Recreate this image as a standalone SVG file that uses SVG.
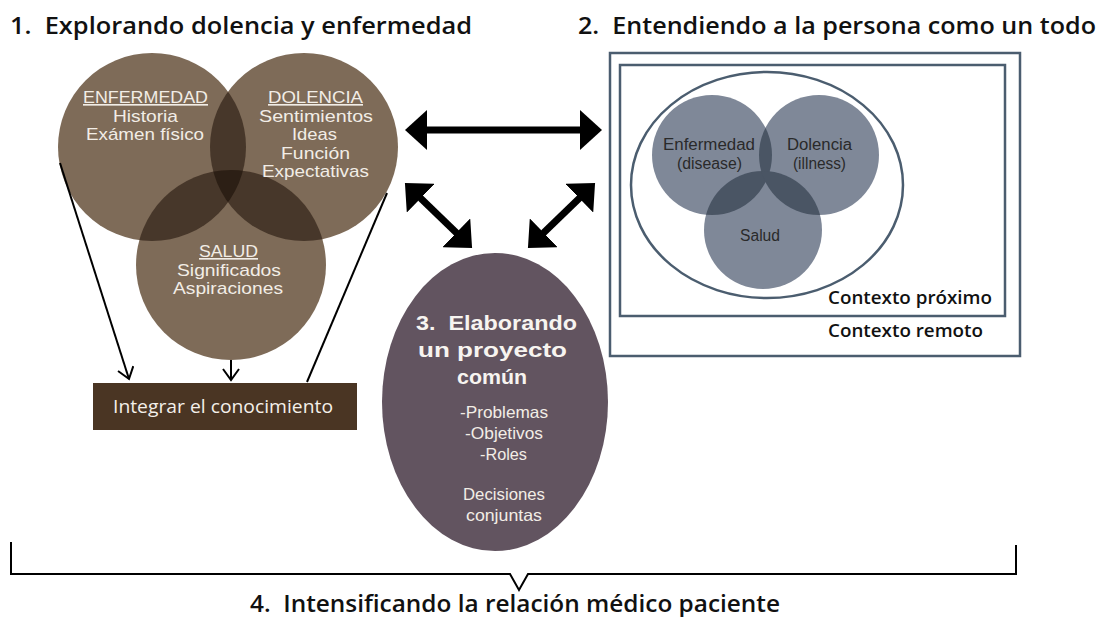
<svg xmlns="http://www.w3.org/2000/svg" width="1102" height="617" viewBox="0 0 1102 617">
<style>
.h{font-family:"Open Sans","Liberation Sans",sans-serif;font-weight:600;fill:#111;}
.ct{font-family:"Liberation Sans",Arial,sans-serif;fill:#f2ede6;font-size:16.4px;text-anchor:middle;}
.gt{font-family:"Liberation Sans",Arial,sans-serif;fill:#2a2a2a;font-size:16px;text-anchor:middle;}
.pt{font-family:"Liberation Sans",Arial,sans-serif;fill:#f2ede6;text-anchor:middle;font-size:16.5px;}
.pb{font-family:"Liberation Sans",Arial,sans-serif;fill:#f7f4f0;text-anchor:middle;font-size:21px;font-weight:700;}
.brown{fill:#7e6b58;}
.brown2{fill:#47372a;}
.brown3{fill:#2c1f15;}
.gray{fill:#7f8898;}
.gray2{fill:#4a5564;}
.frame{fill:none;stroke:#4b5d6f;stroke-width:2.5;}
.thin{stroke:#000;stroke-width:2;fill:none;}
.big{stroke:#000;stroke-width:7;fill:none;}
</style>
<defs>
<clipPath id="cE"><circle cx="152" cy="147" r="94"/></clipPath>
<clipPath id="cD"><circle cx="304" cy="147" r="94"/></clipPath>
<clipPath id="gE"><circle cx="712" cy="155" r="60"/></clipPath>
<clipPath id="gD"><circle cx="819" cy="155" r="60"/></clipPath>
<marker id="bigHead" markerUnits="userSpaceOnUse" markerWidth="22" markerHeight="40" viewBox="0 0 22 40" refX="17" refY="20" orient="auto-start-reverse">
<path d="M0,0 L22,20 L0,40 Z" fill="#000"/>
</marker>
<marker id="openHead" markerUnits="userSpaceOnUse" markerWidth="14" markerHeight="18" viewBox="0 0 14 18" refX="12" refY="9" orient="auto">
<path d="M1,1 L12,9 L1,17" fill="none" stroke="#000" stroke-width="2"/>
</marker>
</defs>
<rect width="1102" height="617" fill="#fff"/>

<text class="h" x="10" y="34" font-size="23" textLength="462" lengthAdjust="spacingAndGlyphs">1.&#160; Explorando dolencia y enfermedad</text>
<text class="h" x="578" y="34" font-size="23" textLength="518" lengthAdjust="spacingAndGlyphs">2.&#160; Entendiendo a la persona como un todo</text>

<g id="venn-brown">
<circle class="brown" cx="152" cy="147" r="94"/>
<circle class="brown" cx="304" cy="147" r="94"/>
<circle class="brown" cx="231" cy="265" r="95"/>
<circle class="brown2" cx="304" cy="147" r="94" clip-path="url(#cE)"/>
<circle class="brown2" cx="231" cy="265" r="95" clip-path="url(#cE)"/>
<circle class="brown2" cx="231" cy="265" r="95" clip-path="url(#cD)"/>
<g clip-path="url(#cE)"><circle class="brown3" cx="231" cy="265" r="95" clip-path="url(#cD)"/></g>
</g>
<g id="node-enfermedad">
<text class="ct" x="145.5" y="103" text-decoration="underline" textLength="125" lengthAdjust="spacingAndGlyphs">ENFERMEDAD</text>
<text class="ct" x="145.5" y="121.5" textLength="65" lengthAdjust="spacingAndGlyphs">Historia</text>
<text class="ct" x="145" y="140" textLength="118" lengthAdjust="spacingAndGlyphs">Exámen físico</text>
</g>
<g id="node-dolencia">
<text class="ct" x="315.5" y="103" text-decoration="underline" textLength="95" lengthAdjust="spacingAndGlyphs">DOLENCIA</text>
<text class="ct" x="316" y="121.5" textLength="114" lengthAdjust="spacingAndGlyphs">Sentimientos</text>
<text class="ct" x="314.5" y="140" textLength="45" lengthAdjust="spacingAndGlyphs">Ideas</text>
<text class="ct" x="315.5" y="158.5" textLength="69" lengthAdjust="spacingAndGlyphs">Función</text>
<text class="ct" x="315.5" y="177" textLength="107" lengthAdjust="spacingAndGlyphs">Expectativas</text>
</g>
<g id="node-salud">
<text class="ct" x="228.5" y="257" text-decoration="underline" textLength="59" lengthAdjust="spacingAndGlyphs">SALUD</text>
<text class="ct" x="229" y="275.5" textLength="104" lengthAdjust="spacingAndGlyphs">Significados</text>
<text class="ct" x="228" y="294" textLength="110" lengthAdjust="spacingAndGlyphs">Aspiraciones</text>
</g>

<g id="node-integrar">
<rect x="93" y="383" width="264" height="47" fill="#4a3523"/>
<text x="223" y="413" font-family="Open Sans, Liberation Sans, sans-serif" font-size="18.5" fill="#f4f0ea" text-anchor="middle" textLength="220" lengthAdjust="spacingAndGlyphs">Integrar el conocimiento</text>
</g>

<g id="node-persona">
<rect class="frame" x="610" y="53" width="410" height="303"/>
<rect class="frame" x="620" y="65" width="385" height="251"/>
<ellipse class="frame" cx="767" cy="185" rx="136" ry="113"/>
<circle class="gray" cx="712" cy="155" r="60"/>
<circle class="gray" cx="819" cy="155" r="60"/>
<circle class="gray" cx="763" cy="230" r="59"/>
<circle class="gray2" cx="819" cy="155" r="60" clip-path="url(#gE)"/>
<circle class="gray2" cx="763" cy="230" r="59" clip-path="url(#gE)"/>
<circle class="gray2" cx="763" cy="230" r="59" clip-path="url(#gD)"/>
<text class="gt" x="709" y="150" textLength="92" lengthAdjust="spacingAndGlyphs">Enfermedad</text>
<text class="gt" x="709.5" y="168.5" textLength="65" lengthAdjust="spacingAndGlyphs">(disease)</text>
<text class="gt" x="819.5" y="150" textLength="65" lengthAdjust="spacingAndGlyphs">Dolencia</text>
<text class="gt" x="819.5" y="168.5" textLength="53" lengthAdjust="spacingAndGlyphs">(illness)</text>
<text class="gt" x="760" y="241" textLength="40" lengthAdjust="spacingAndGlyphs">Salud</text>
<text class="h" x="828" y="304" font-size="17.5" textLength="164" lengthAdjust="spacingAndGlyphs">Contexto próximo</text>
<text class="h" x="828" y="337" font-size="17.5" textLength="155" lengthAdjust="spacingAndGlyphs">Contexto remoto</text>
</g>

<g id="node-proyecto">
<ellipse cx="495" cy="402" rx="113" ry="149" fill="#625460"/>
<text class="pb" x="496.5" y="330" textLength="161" lengthAdjust="spacingAndGlyphs">3.&#160; Elaborando</text>
<text class="pb" x="492.5" y="357" textLength="149" lengthAdjust="spacingAndGlyphs">un proyecto</text>
<text class="pb" x="492" y="384" textLength="70" lengthAdjust="spacingAndGlyphs">común</text>
<text class="pt" x="504" y="418" textLength="88" lengthAdjust="spacingAndGlyphs">-Problemas</text>
<text class="pt" x="504" y="439" textLength="78" lengthAdjust="spacingAndGlyphs">-Objetivos</text>
<text class="pt" x="503.5" y="460" textLength="47" lengthAdjust="spacingAndGlyphs">-Roles</text>
<text class="pt" x="504" y="500" textLength="82" lengthAdjust="spacingAndGlyphs">Decisiones</text>
<text class="pt" x="504" y="521" textLength="76" lengthAdjust="spacingAndGlyphs">conjuntas</text>
</g>

<g id="connectors">
<line class="thin" x1="60" y1="163" x2="129" y2="379" marker-end="url(#openHead)"/>
<line class="thin" x1="231" y1="360" x2="231" y2="380" marker-end="url(#openHead)"/>
<line class="thin" x1="387" y1="193" x2="307" y2="382"/>
<line class="big" x1="410" y1="130" x2="597" y2="130" marker-start="url(#bigHead)" marker-end="url(#bigHead)"/>
<line class="big" x1="408.5" y1="186.4" x2="468.5" y2="244.6" marker-start="url(#bigHead)" marker-end="url(#bigHead)"/>
<line class="big" x1="591.5" y1="186.4" x2="531.5" y2="244.6" marker-start="url(#bigHead)" marker-end="url(#bigHead)"/>
<polyline class="thin" points="11,542 11,574 510,574 519,590 528,574 1016,574 1016,545"/>
</g>

<text class="h" x="250" y="612" font-size="23" textLength="530" lengthAdjust="spacingAndGlyphs">4.&#160; Intensificando la relación médico paciente</text>
</svg>
